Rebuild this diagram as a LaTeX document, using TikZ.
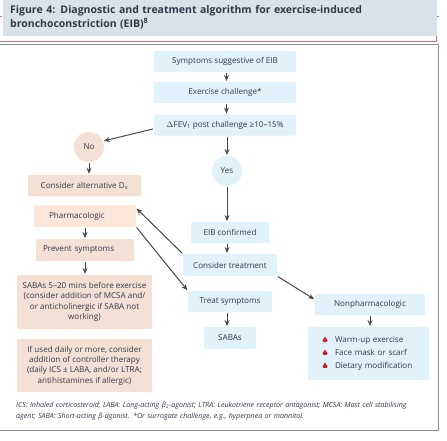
\documentclass[tikz,border=0pt]{standalone}
\usepackage{xcolor}
\usepackage{fontspec}
\setmainfont{Open Sans}
\usetikzlibrary{arrows.meta}
\definecolor{headercolor}{HTML}{D9E2E8}
\definecolor{linecolor}{HTML}{CE7079}
\definecolor{framecolor}{HTML}{8E8E8E}
\definecolor{bluecolor}{HTML}{E1F2FB}
\definecolor{peachcolor}{HTML}{F5E0D5}
\definecolor{lightpeach}{HTML}{FBE6D9}
\definecolor{textcolor}{HTML}{33374A}
\definecolor{dropcolor}{HTML}{C8202F}
\tikzset{
  bluebox/.style={fill=bluecolor,rounded corners=2pt,inner sep=0pt,outer sep=0pt,
    text=textcolor,font=\fontsize{8.1}{10.4}\selectfont,align=center},
  peachbox/.style={bluebox,fill=peachcolor},
  roundbox/.style={circle,fill=#1,inner sep=0pt,outer sep=0pt,minimum size=30pt,
    text=textcolor,font=\fontsize{8.1}{10.4}\selectfont},
  arrowline/.style={draw=black!72,line width=1pt,-{Stealth[length=6pt,width=5pt]},
    shorten >=1pt,shorten <=1pt}
}
\begin{document}
\begin{tikzpicture}[x=1pt,y=-1pt]
\useasboundingbox (0,0) rectangle (447,440);
\fill[white] (0,0) rectangle (447,440);
\draw[framecolor,line width=1.2pt] (0,44.5) -- (438.5,44.5) -- (438.5,430.5) -- (0,430.5);
\draw[linecolor,line width=1pt] (0,41) -- (436.5,41) -- (436.5,16) -- (439,16);
\draw[linecolor,line width=1pt] (0,16) -- (2,16);
\node[fill=headercolor,anchor=north west,inner sep=0pt,outer sep=0pt,minimum width=434pt,
      minimum height=36pt] (header) at (3,0) {};
\node[anchor=north west,inner sep=0pt,text width=425pt,align=left,text=textcolor,
      font=\bfseries\fontsize{10.5}{14}\selectfont] (title) at (10,5.5)
  {Figure 4: Diagnostic and treatment algorithm for exercise-induced\\
   bronchoconstriction (EIB)\textsuperscript{8}};

\node[bluebox,minimum width=142pt,minimum height=21pt] (symptoms) at (225,61.5) {Symptoms suggestive of EIB};
\node[bluebox,minimum width=142pt,minimum height=21pt] (challenge) at (225,92.5) {Exercise challenge*};
\node[bluebox,minimum width=142pt,minimum height=21pt] (fev) at (225,125) {$\Delta$FEV\textsubscript{1} post challenge ≥10–15\%};
\node[roundbox=peachcolor] (no) at (89,147) {No};
\node[roundbox=bluecolor] (yes) at (227,171) {Yes};
\node[peachbox,minimum width=113pt,minimum height=21.5pt] (alternative) at (84.5,185.5) {Consider alternative D\textsubscript{x}};
\node[peachbox,fill=lightpeach,text width=72pt,inner xsep=15pt,minimum height=21.5pt,align=left] (pharma) at (85,216) {Pharmacologic};
\node[peachbox,text width=84pt,inner xsep=7pt,minimum height=22pt,align=left] (prevent) at (85,250) {Prevent symptoms};
\node[peachbox,minimum width=135pt,minimum height=54pt] (sabafirst) at (84.5,302)
  {SABAs 5–20 mins before exercise\\(consider addition of MCSA and/\\or anticholinergic if SABA not\\working)};
\node[peachbox,minimum width=135pt,minimum height=53pt] (controller) at (84.5,365.5)
  {If used daily or more, consider\\addition of controller therapy\\(daily ICS ± LABA, and/or LTRA;\\antihistamines if allergic)};
\node[bluebox,minimum width=78pt,minimum height=21pt] (confirmed) at (230,232.5) {EIB confirmed};
\node[bluebox,minimum width=94pt,minimum height=22pt] (treatment) at (230,265) {Consider treatment};
\node[bluebox,minimum width=84pt,minimum height=21pt] (treat) at (230,301.5) {Treat symptoms};
\node[bluebox,minimum width=52pt,minimum height=22pt] (sabas) at (230,338) {SABAs};
\node[bluebox,minimum width=110pt,minimum height=21pt] (nonpharma) at (370,304.5) {Nonpharmacologic};
\node[bluebox,text width=94pt,minimum height=53pt,align=left,
      font=\fontsize{8.1}{13}\selectfont,inner xsep=13.5pt] (measures) at (368.5,353.5)
  {\hspace*{13.5pt}Warm-up exercise\\\hspace*{13.5pt}Face mask or scarf\\\hspace*{13.5pt}Dietary modification};
\foreach \y in {339.5,352.5,365.5}
  \fill[dropcolor] (325,\y-3) .. controls (325.5,\y-1) and (327.5,\y-0.5) .. (327.5,\y+1)
    .. controls (327.5,\y+3.2) and (322.5,\y+3.2) .. (322.5,\y+1)
    .. controls (322.5,\y-0.5) and (324.5,\y-1) .. (325,\y-3);

\draw[arrowline] (symptoms.south -| 226.5,0) -- (challenge.north -| 226.5,0);
\draw[arrowline] (challenge.south -| 226.5,0) -- (fev.north -| 226.5,0);
\draw[arrowline] (fev.south -| yes) -- (yes.north);
\draw[arrowline] (fev.183) -- (no.23);
\draw[arrowline] (no.south) -- (alternative.north -| no);
\draw[arrowline] (yes.south) -- (confirmed.north -| yes);
\draw[arrowline] (confirmed.south -| yes) -- (treatment.north -| yes);
\draw[arrowline] (treatment.north west) -- (pharma.9);
\draw[arrowline] (pharma.south east) -- (treat.north west);
\draw[arrowline] (treatment.south east) -- (nonpharma.175);
\draw[arrowline] (treat.south -| yes) -- (sabas.north -| yes);
\draw[arrowline] (nonpharma.south) -- (measures.north -| nonpharma);
\draw[arrowline] (pharma.south) -- (prevent.north);
\draw[arrowline] (prevent.south) -- (sabafirst.north -| prevent);

\node[anchor=north west,inner sep=0pt,text width=415pt,align=left,text=textcolor,
      font=\itshape\fontsize{7.1}{11}\selectfont] (note) at (16,401.5)
  {ICS: Inhaled corticosteroid; LABA: Long-acting β\textsubscript{2}-agonist; LTRA: Leukotriene receptor antagonist; MCSA: Mast cell stabilising\\
   agent; SABA: Short-acting β-agonist. *Or surrogate challenge, e.g., hyperpnea or mannitol.};
\end{tikzpicture}
\end{document}
